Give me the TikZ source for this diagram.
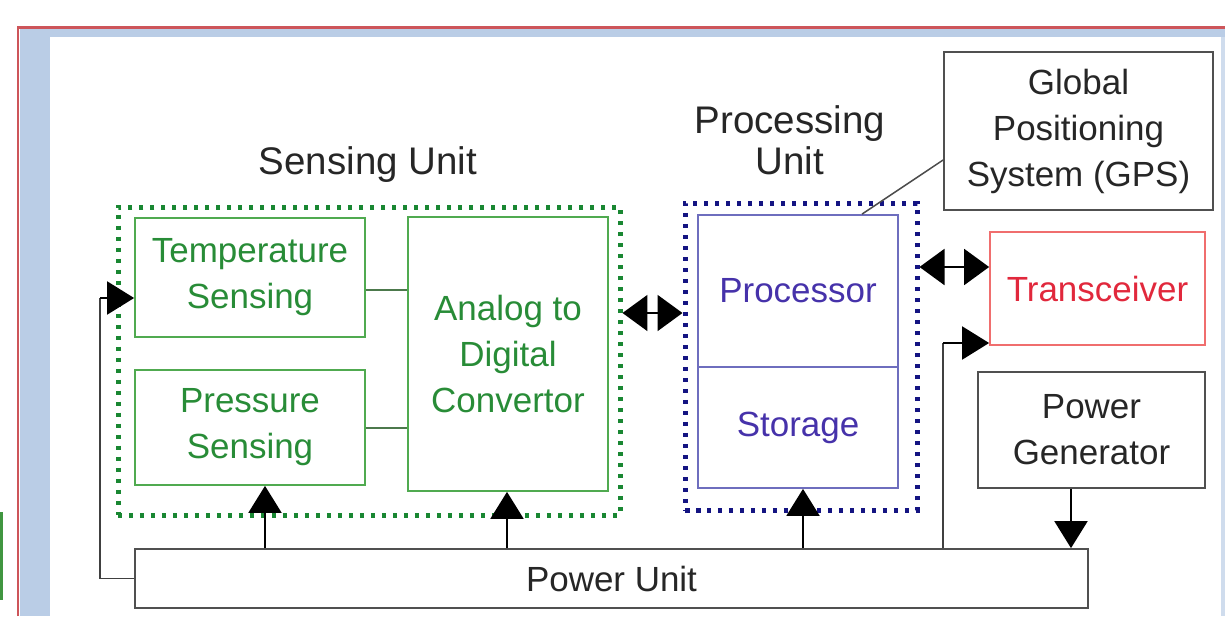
\documentclass[tikz,border=0pt]{standalone}
\usepackage{fontspec}
\setmainfont{Liberation Sans}
\usetikzlibrary{arrows.meta}
\def\u{0.02cm}
\definecolor{framered}{RGB}{205,85,90}
\definecolor{stripblue}{RGB}{186,205,230}
\definecolor{sensetext}{RGB}{40,140,55}
\definecolor{senseline}{RGB}{80,170,80}
\definecolor{sensedot}{RGB}{25,135,50}
\definecolor{proctext}{RGB}{70,50,170}
\definecolor{procline}{RGB}{110,110,190}
\definecolor{procdot}{RGB}{20,20,130}
\definecolor{trxtext}{RGB}{225,40,60}
\definecolor{trxline}{RGB}{240,110,110}
\definecolor{greyline}{RGB}{80,80,80}
\tikzset{
    block/.style = {
        draw, rectangle, inner sep=0pt, align=center, line width=0.035cm,
        font=\fontsize{19.9}{26.2}\selectfont
    },
    senseblock/.style = {block, draw=senseline, text=sensetext},
    procblock/.style = {block, draw=procline, text=proctext},
    trxblock/.style = {block, draw=trxline, text=trxtext},
    plainblock/.style = {block, draw=greyline, text=black!85},
    unitbox/.style = {
        draw, rectangle, inner sep=0pt, line width=0.1cm,
        dash pattern=on 0.09cm off 0.13cm
    },
    unitlabel/.style = {align=center, text=black!85, font=\fontsize{21.9}{23.5}\selectfont},
    link/.style = {line width=0.04cm, -{Triangle[width=0.66cm,length=0.54cm]}},
    both/.style = {line width=0.04cm, {Triangle[width=0.72cm,length=0.5cm]}-{Triangle[width=0.72cm,length=0.5cm]}},
}
\begin{document}
\begin{tikzpicture}[x=\u, y=-\u]
        \useasboundingbox (0,0) rectangle (1225,616);

        % Page frame
        \fill[stripblue] (20,29) rectangle (1225,37);
        \fill[stripblue] (20,29) rectangle (50,616);
        \fill[stripblue!70] (1221,37) rectangle (1225,616);
        \draw[framered, line width=0.06cm] (18,616) -- (18,27) -- (1225,27);
        \fill[green!45!black!75] (0,512) rectangle (3,600);

        % Place the blocks
        \node[unitbox, draw=sensedot, minimum width=502*\u, minimum height=308*\u] (sense) at (369,361) {};
        \node[unitbox, draw=procdot, minimum width=232*\u, minimum height=307*\u] (procunit) at (801,356.5) {};
        \node[unitlabel] (senselabel) at (368,165) {Sensing Unit};
        \node[unitlabel] (proclabel) at (790,140) {Processing\\Unit};

        \node[senseblock, minimum width=230*\u, minimum height=119*\u] (temp) at (250,277.5) {Temperature\\Sensing};
        \node[senseblock, minimum width=230*\u, minimum height=115*\u] (pres) at (250,427.5) {Pressure\\Sensing};
        \node[senseblock, minimum width=200*\u, minimum height=274*\u] (adc) at (508,354) {Analog to\\Digital\\Convertor};

        \node[procblock, minimum width=200*\u, minimum height=152*\u] (proc) at (798,291) {Processor};
        \node[procblock, minimum width=200*\u, minimum height=121*\u] (stor) at (798,427.5) {Storage};

        \node[plainblock, minimum width=269*\u, minimum height=158*\u] (gps) at (1078.5,131) {Global\\Positioning\\System (GPS)};
        \node[trxblock, minimum width=215*\u, minimum height=113*\u] (trx) at (1097.5,288.5) {Transceiver};
        \node[plainblock, minimum width=227*\u, minimum height=116*\u] (pgen) at (1091.5,430) {Power\\Generator};
        \node[plainblock, minimum width=953*\u, minimum height=59*\u] (power) at (611.5,578.5) {Power Unit};

        % Draw connections
        \draw[green!25!black!70, line width=0.03cm] (temp.east |- 0,290) -- (adc.west |- 0,290);
        \draw[green!25!black!70, line width=0.03cm] (pres.east |- 0,428) -- (adc.west |- 0,428);
        \draw[black!70, line width=0.03cm] (gps.west |- 0,160) -- (proc.north -| 862,0);

        \draw[both] (sense.east |- 0,313) -- (procunit.west |- 0,313);
        \draw[both] (procunit.east |- 0,267) -- (trx.west |- 0,267);

        \foreach \n/\x in {pres/265, adc/507, stor/803}{
            \draw[link] (\x,0 |- power.north) -- (\x,0 |- \n.south);
        }
        \draw[link] (pgen.south -| 1071,0) -- (power.north -| 1071,0);

        \coordinate (loop) at (100,298);
        \draw[black!75, line width=0.03cm] (power.west) -| (loop);
        \draw[link] (loop) -- (temp.west |- loop);
        \coordinate (txfeed) at (943,343);
        \draw[black!75, line width=0.03cm] (power.north -| txfeed) -- (txfeed);
        \draw[link] (txfeed) -- (trx.west |- txfeed);
    \end{tikzpicture}
\end{document}
